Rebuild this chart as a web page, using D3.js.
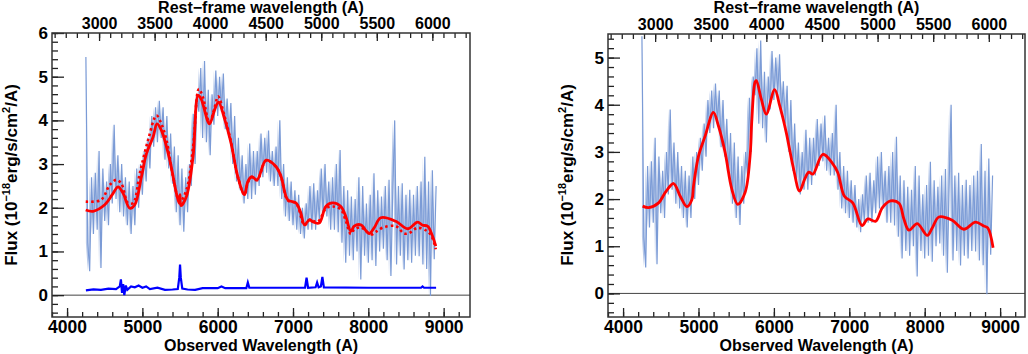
<!DOCTYPE html>
<html>
<head>
<meta charset="utf-8">
<script src="https://cdn.jsdelivr.net/npm/d3@7"></script>
<style>
  body { margin: 0; background: #fff; }
  svg text { font-family: 'Liberation Sans', Arial, sans-serif; font-weight: bold; fill: #000; }
</style>
</head>
<body>
<svg id="chart" width="1028" height="354"></svg>
<script>
// redshift used for the rest-frame axis on top
const Z = 0.475

// observed spectrum, sampled every 25 A from 4250 A
const fluxStart = 4250
const fluxStep = 25
const flux = [
  5.45, 1.2, 0.55, 2.7, 1.4, 2.8, 1.5, 3.3, 0.62, 2.9,
  1.7, 2.6, 1.6, 3.0, 2.1, 3.9, 2.2, 3.2, 1.9, 3.0,
  1.8, 2.7, 1.6, 2.6, 1.4, 2.5, 1.6, 2.9, 2.0, 3.0,
  2.3, 3.3, 2.6, 3.6, 2.9, 4.1, 3.4, 4.3, 3.5, 4.45,
  3.6, 4.3, 3.1, 4.1, 2.9, 3.7, 2.55, 3.4, 1.9, 3.2,
  1.6, 2.9, 1.45, 2.7, 1.9, 3.0, 2.5, 4.15, 3.0, 4.6,
  4.2, 5.2, 3.6, 5.36, 3.5, 4.7, 3.2, 4.6, 3.9, 5.14,
  4.1, 5.0, 4.2, 5.07, 3.8, 4.5, 3.6, 4.4, 3.0, 4.1,
  2.6, 3.6, 2.4, 3.2, 2.1, 3.0, 2.2, 3.47, 2.2, 3.3,
  2.3, 3.3, 2.5, 3.7, 2.7, 3.6, 2.8, 3.77, 2.6, 3.3,
  2.5, 3.4, 2.5, 4.0, 2.2, 3.0, 1.8, 2.7, 1.7, 2.6,
  1.6, 2.4, 1.5, 2.3, 1.4, 2.0, 1.3, 2.1, 1.5, 2.5,
  1.5, 2.56, 1.5, 2.4, 1.7, 2.9, 1.8, 3.0, 1.8, 2.6,
  1.5, 2.7, 1.5, 3.0, 1.44, 3.32, 1.2, 2.5, 0.74, 2.4,
  0.9, 2.26, 0.8, 2.2, 1.0, 2.7, 0.36, 2.5, 0.9, 2.1,
  0.74, 2.3, 0.8, 2.79, 0.67, 2.4, 1.0, 2.26, 1.06, 2.5,
  0.8, 2.64, 0.44, 2.4, 4.0, 0.7, 2.5, 0.9, 2.56, 0.59,
  2.3, 0.8, 2.41, 0.74, 2.3, 0.9, 2.5, 0.89, 2.6, 0.7,
  3.17, 0.6, 2.6, -0.02, 2.86, 0.82, 2.5
]

// left panel: smoothed fits (solid, dotted) and error spectrum
const leftSolid = [
  [4248, 1.95], [4345, 1.92], [4500, 2.07], [4600, 2.3], [4677, 2.48], [4744, 2.33],
  [4833, 1.99], [4899, 2.07], [4988, 2.71], [5054, 3.24], [5142, 3.62], [5195, 3.92],
  [5253, 3.77], [5364, 3.09], [5452, 2.33], [5490, 2.1], [5500, 2.3], [5512, 2.05],
  [5585, 2.26], [5673, 3.17], [5740, 4.57], [5780, 4.49], [5891, 3.92], [5957, 4.23],
  [6010, 4.42], [6090, 4.04], [6178, 3.47], [6267, 2.71], [6356, 2.3], [6400, 2.6],
  [6453, 2.71], [6523, 2.64], [6643, 3.09], [6776, 2.94], [6842, 2.71], [6931, 2.18],
  [7041, 2.11], [7100, 1.9], [7153, 1.61], [7219, 1.73], [7260, 1.68], [7347, 1.65],
  [7436, 2.03], [7525, 2.11], [7635, 2.03], [7701, 1.8], [7768, 1.46], [7812, 1.58],
  [7900, 1.61], [8011, 1.41], [8077, 1.54], [8166, 1.77], [8365, 1.69], [8521, 1.52],
  [8654, 1.67], [8720, 1.6], [8786, 1.58], [8853, 1.35], [8896, 1.12]
]
const leftDotted = [
  [4248, 2.14], [4450, 2.18], [4567, 2.52], [4655, 2.64], [4722, 2.55], [4810, 2.11],
  [4877, 2.11], [4966, 2.79], [5076, 3.55], [5187, 4.11], [5253, 3.92], [5320, 3.55],
  [5408, 2.71], [5497, 2.14], [5585, 2.41], [5673, 3.39], [5750, 4.72], [5800, 4.55],
  [5891, 3.95], [5960, 4.3], [6005, 4.55], [6090, 4.1], [6178, 3.5], [6267, 2.71],
  [6356, 2.3], [6400, 2.58], [6453, 2.7], [6523, 2.63], [6643, 3.08], [6776, 2.93],
  [6842, 2.7], [6931, 2.17], [7041, 2.1], [7153, 1.6], [7219, 1.72], [7329, 1.68],
  [7436, 1.98], [7525, 2.03], [7635, 1.96], [7701, 1.7], [7768, 1.4], [7812, 1.5],
  [7900, 1.55], [8040, 1.39], [8100, 1.45], [8200, 1.55], [8365, 1.58], [8477, 1.41],
  [8540, 1.42], [8654, 1.54], [8786, 1.46], [8853, 1.3], [8896, 1.05]
]
const leftError = [
  [4250, 0.11], [4350, 0.13], [4450, 0.12], [4550, 0.15], [4650, 0.14], [4700, 0.2],
  [4715, 0.36], [4730, 0.05], [4745, 0.25], [4760, 0.0], [4780, 0.22], [4800, 0.12],
  [4850, 0.2], [4900, 0.18], [4950, 0.22], [5000, 0.17], [5050, 0.2], [5100, 0.14],
  [5200, 0.17], [5300, 0.12], [5400, 0.13], [5470, 0.14], [5490, 0.4], [5500, 0.7],
  [5510, 0.4], [5530, 0.15], [5600, 0.13], [5700, 0.12], [5800, 0.16], [6000, 0.16],
  [6050, 0.2], [6100, 0.16], [6380, 0.16], [6400, 0.29], [6420, 0.17], [7000, 0.17],
  [7160, 0.17], [7180, 0.4], [7200, 0.17], [7300, 0.18], [7320, 0.29], [7340, 0.18],
  [7370, 0.2], [7390, 0.42], [7410, 0.18], [8000, 0.17], [8700, 0.17], [8720, 0.2],
  [8740, 0.17], [8900, 0.17]
]

// right panel: smoothed fit
const rightSolid = [
  [4259, 1.85], [4339, 1.82], [4471, 1.92], [4560, 2.14], [4670, 2.33], [4758, 2.06],
  [4847, 1.84], [4913, 1.99], [4934, 2.28], [5000, 2.91], [5089, 3.34], [5198, 3.84],
  [5265, 3.55], [5353, 2.99], [5442, 2.21], [5521, 1.89], [5618, 2.14], [5684, 2.91],
  [5706, 3.63], [5750, 4.48], [5767, 4.51], [5833, 4.12], [5899, 3.8], [6010, 4.32],
  [6077, 3.98], [6164, 3.41], [6253, 2.7], [6341, 2.17], [6407, 2.42], [6464, 2.57],
  [6517, 2.53], [6649, 2.95], [6772, 2.77], [6848, 2.56], [6936, 2.06], [7046, 1.92],
  [7169, 1.44], [7245, 1.58], [7350, 1.53], [7439, 1.82], [7549, 1.96], [7659, 1.91],
  [7725, 1.57], [7791, 1.34], [7902, 1.48], [8034, 1.23], [8101, 1.39], [8188, 1.62],
  [8365, 1.55], [8519, 1.36], [8673, 1.51], [8783, 1.43], [8836, 1.39], [8907, 0.97]
]

const yTicksLeft = [0, 1, 2, 3, 4, 5, 6]
const yTicksRight = [0, 1, 2, 3, 4, 5]
const obsTicks = [4000, 5000, 6000, 7000, 8000, 9000]
const restTicks = [3000, 3500, 4000, 4500, 5000, 5500, 6000]

const specColor = '#7b9bd6'
const svg = d3.select('#chart')

const spectrum = flux.map((f, i) => [fluxStart + i * fluxStep, f])

function drawPanel(p) {
  const g = svg.append('g')

  const x = d3.scaleLinear().domain(p.xDomain).range([p.left, p.right])
  const y = d3.scaleLinear().domain(p.yDomain).range([p.bottom, p.top])
  const xRest = d3.scaleLinear()
    .domain([p.xDomain[0] / (1 + Z), p.xDomain[1] / (1 + Z)])
    .range([p.left, p.right])

  const clipId = 'clip' + p.left
  svg.append('clipPath').attr('id', clipId)
    .append('rect')
    .attr('x', p.left).attr('y', p.top)
    .attr('width', p.right - p.left).attr('height', p.bottom - p.top)

  const plot = g.append('g').attr('clip-path', 'url(#' + clipId + ')')

  // zero line
  plot.append('line')
    .attr('x1', p.left).attr('x2', p.right)
    .attr('y1', y(0)).attr('y2', y(0))
    .style('stroke', '#444').style('stroke-width', 1)

  // noisy observed spectrum: filled between neighbouring samples, then the line itself
  plot.append('path')
    .datum(spectrum.slice(0, -1).map((d, i) => [d[0], d[1], spectrum[i + 1][1]]))
    .style('fill', specColor).style('fill-opacity', 0.55)
    .attr('d', d3.area().x(d => x(d[0])).y0(d => y(d[1])).y1(d => y(d[2])))
  plot.append('path')
    .datum(spectrum)
    .style('fill', 'none')
    .style('stroke', specColor)
    .style('stroke-width', 1.2)
    .attr('d', d3.line().x(d => x(d[0])).y(d => y(d[1])))

  const smooth = d3.line()
    .x(d => x(d[0])).y(d => y(d[1]))
    .curve(d3.curveCatmullRom.alpha(0.5))

  if (p.error) {
    plot.append('path')
      .datum(p.error)
      .style('fill', 'none').style('stroke', '#0000ff').style('stroke-width', 2.2)
      .attr('d', d3.line().x(d => x(d[0])).y(d => y(d[1])))
  }
  if (p.dotted) {
    plot.append('path')
      .datum(p.dotted)
      .style('fill', 'none').style('stroke', '#ff0000')
      .style('stroke-width', 2.6).style('stroke-dasharray', '2.5,3')
      .attr('d', smooth)
  }
  plot.append('path')
    .datum(p.solid)
    .style('fill', 'none').style('stroke', '#ff0000').style('stroke-width', 2.8)
    .attr('d', smooth)

  // bottom axis (ticks point inward)
  const minorObs = d3.range(3800, p.xDomain[1], 200)
  g.append('g')
    .attr('transform', 'translate(0,' + p.bottom + ')')
    .call(d3.axisBottom(x).tickValues(minorObs).tickSize(-5).tickFormat(''))
  const bottomAxis = g.append('g')
    .attr('transform', 'translate(0,' + p.bottom + ')')
    .call(d3.axisBottom(x).tickValues(obsTicks).tickSize(-9).tickPadding(4).tickFormat(d3.format('d')))
  bottomAxis.selectAll('text').style('font-size', '17.5px')

  // top axis in rest-frame wavelength
  const minorRest = d3.range(2600, xRest.domain()[1], 100)
  g.append('g')
    .attr('transform', 'translate(0,' + p.top + ')')
    .call(d3.axisTop(xRest).tickValues(minorRest).tickSize(-5).tickFormat(''))
  const topAxis = g.append('g')
    .attr('transform', 'translate(0,' + p.top + ')')
    .call(d3.axisTop(xRest).tickValues(restTicks).tickSize(-8).tickPadding(4).tickFormat(d3.format('d')))
  topAxis.selectAll('text').style('font-size', '16px')

  // left axis
  const minorY = d3.range(-0.4, p.yDomain[1] + 0.01, 0.2)
  g.append('g')
    .attr('transform', 'translate(' + p.left + ',0)')
    .call(d3.axisLeft(y).tickValues(minorY).tickSize(-6).tickFormat(''))
  const leftAxis = g.append('g')
    .attr('transform', 'translate(' + p.left + ',0)')
    .call(d3.axisLeft(y).tickValues(p.yTicks).tickSize(-12).tickPadding(4).tickFormat(d3.format('d')))
  leftAxis.selectAll('text').style('font-size', '17px')

  g.selectAll('.domain').remove()
  g.selectAll('.tick line').style('stroke', '#222').style('stroke-width', 1.3)
  g.selectAll('.tick text').style('font-family', null)

  // frame
  g.append('rect')
    .attr('x', p.left).attr('y', p.top)
    .attr('width', p.right - p.left).attr('height', p.bottom - p.top)
    .style('fill', 'none').style('stroke', '#333').style('stroke-width', 1.5)

  const cx = (p.left + p.right) / 2
  g.append('text')
    .attr('x', cx).attr('y', 13)
    .attr('text-anchor', 'middle')
    .style('font-size', '16px')
    .text('Rest\u2212frame wavelength (A)')
  g.append('text')
    .attr('x', cx).attr('y', 351)
    .attr('text-anchor', 'middle')
    .style('font-size', '16px')
    .text('Observed Wavelength (A)')

  const yt = g.append('text')
    .attr('transform', 'translate(' + p.titleX + ',175) rotate(-90)')
    .attr('text-anchor', 'middle')
    .style('font-size', '17px')
  yt.append('tspan').text('Flux (10')
  yt.append('tspan').attr('dy', -7).style('font-size', '11px').text('\u221218')
  yt.append('tspan').attr('dy', 7).text('erg/s/cm')
  yt.append('tspan').attr('dy', -7).style('font-size', '11px').text('2')
  yt.append('tspan').attr('dy', 7).text('/A)')
}

drawPanel({
  left: 52, right: 470, top: 33, bottom: 317,
  xDomain: [3800, 9350], yDomain: [-0.5, 6], yTicks: yTicksLeft,
  solid: leftSolid, dotted: leftDotted, error: leftError, titleX: 17
})
drawPanel({
  left: 608, right: 1025, top: 34, bottom: 317,
  xDomain: [3800, 9330], yDomain: [-0.5, 5.5], yTicks: yTicksRight,
  solid: rightSolid, titleX: 573
})
</script>
</body>
</html>
